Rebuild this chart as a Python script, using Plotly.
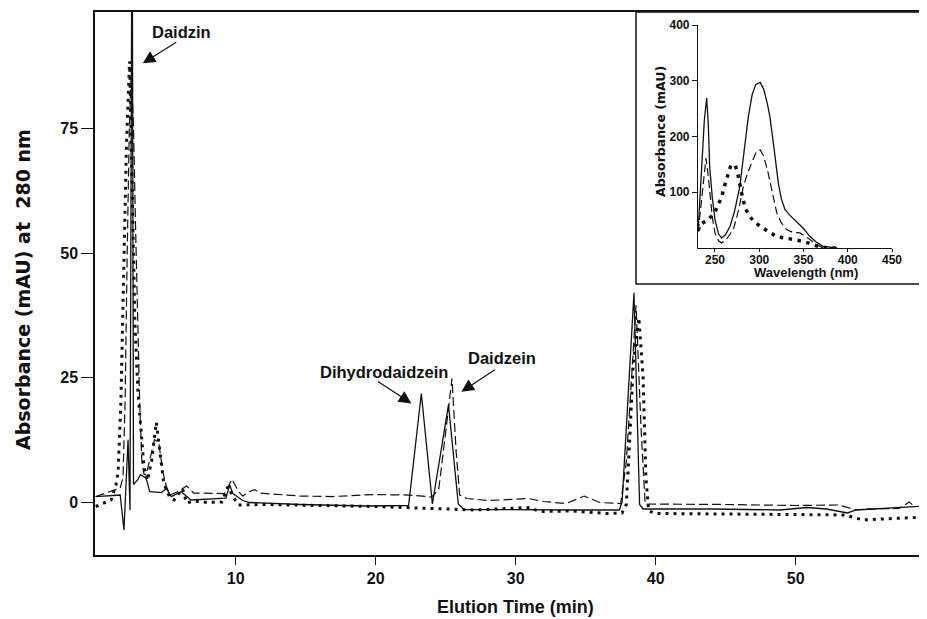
import plotly.graph_objects as go

# ---------------- main chromatogram data ----------------
solid_t = [0, 1.75, 2.02, 2.31, 2.45, 2.6, 2.7, 3.0, 3.2, 3.43, 3.6, 3.86, 4.7, 5.05, 5.4, 6.1, 6.8,
           9.3, 9.57, 9.8, 10.5, 11, 14.6, 19.3, 22.35, 23.26, 24.05, 25.2, 25.9, 26.3, 30, 34, 37.4,
           37.6, 38.45, 38.85, 39.1, 44, 48.9, 50.8, 52.2, 53.7, 54.3, 57.4, 59.4]
solid_a = [1.1, 1.4, -5.6, 12.5, -1.6, 130, 3.5, 4.5, 5.5, 5.1, 4.8, 2.1, 1.9, 2.7, 1.1, 2.1, 0.4,
           0.8, 3.4, 1.7, 0.3, -0.1, -0.5, -0.8, -0.7, 21.8, -0.4, 19.5, -0.4, -1.5, -1.6, -1.6, -1.6,
           0, 42, -0.5, -1.4, -1.4, -1.6, -1.1, -1.4, -2.2, -1.6, -1.2, -0.8]

dash_t = [0, 1.24, 1.75, 1.95, 2.1, 2.25, 2.4, 2.55, 2.7, 2.85, 3.0, 3.14, 3.3, 3.45, 3.6, 3.86, 4.2,
          4.5, 4.8, 5.05, 5.3, 5.8, 6.5, 7.0, 9.2, 9.74, 10.2, 10.5, 11.0, 11.36, 11.7, 14.6, 16.9,
          19.8, 21.7, 22.4, 24.0, 24.5, 25.0, 25.45, 25.75, 26.0, 26.5, 28.1, 30.9, 32, 33.6, 34.9,
          36, 37.5, 37.9, 38.6, 38.95, 39.25, 45, 50, 53.1, 54.3, 55, 57.4, 58.1, 58.5, 59.4]
dash_a = [1.1, 2.4, 2.8, 5, 20, 50, 75, 87, 75, 55, 35, 20, 8, 5.6, 5.4, 8.4, 12.5,
          12, 6, 3.1, 1.4, 2.0, 3.2, 1.8, 1.7, 4.6, 2.1, 1.2, 2.1, 2.5, 1.8, 1.2, 1.1,
          1.5, 1.4, 1.4, 1.0, 2.5, 14, 24.8, 10, 1.4, 0.7, 0.3, 0.7, 0.1, -0.3, 1.2,
          -0.1, -0.3, 8, 39.5, 15, -0.4, -0.5, -0.7, -0.6, -1.6, -1.4, -1.3, 0.0, -0.9, -0.9]

dot_t = [0, 0.5, 1.1, 1.45, 1.6, 1.8, 2.0, 2.2, 2.42, 2.6, 2.8, 3.02, 3.26, 3.45, 3.7, 4.0, 4.33,
         4.6, 4.85, 5.05, 5.3, 5.6, 6.2, 6.5, 7.0, 8.0, 9.0, 9.45, 9.8, 10.2, 12, 16, 20, 24, 27,
         31, 31.7, 34, 36.5, 37.6, 37.9, 38.1, 38.4, 38.8, 39.1, 39.3, 39.5, 40, 45, 50, 53.5,
         54.8, 57, 59.4]
dot_a = [-0.9, -0.3, 0.4, 3.5, 6, 20, 45, 72, 88.5, 65, 36, 22, 13.3, 7, 4.3, 8.4, 16,
         10, 4, 2.4, 0.9, 0.4, 2.7, -0.2, 0.2, -0.1, 0, 3.1, 1.1, -0.6, -0.5, -0.7, -0.9, -1.3, -1.6,
         -1.1, -1.9, -1.8, -2.3, -2.2, -0.5, 10, 28, 37, 25, 5, -1.8, -2.3, -2.4, -2.5, -2.6,
         -3.6, -3.3, -3.0]

main_xticks = [10, 20, 30, 40, 50]
main_yticks = [0, 25, 50, 75]

# ---------------- inset UV spectra data ----------------
sp_solid_nm = [231, 235, 238, 240.6, 242.5, 244, 247, 250, 254, 257.5, 262, 267, 272, 278, 283, 287.7,
               292, 296, 301, 305, 309, 312, 317, 321.6, 325, 329, 335, 342, 350, 357, 365, 372, 380, 388]
sp_solid_a = [33, 146, 230, 269, 220, 146, 90, 51, 25, 18, 24, 39, 65, 110, 175, 236,
              275, 293, 297, 285, 260, 236, 175, 116, 88, 69, 58, 48, 35, 21, 10, 3, 1, 0]

sp_dash_nm = [231, 235, 238, 239.8, 242, 244, 247, 250, 254, 257.5, 263, 270.7, 277, 282, 287, 291.5,
              296, 301, 305, 310, 315, 319.8, 325, 331, 338, 346, 352, 357, 365, 372]
sp_dash_a = [29, 87, 140, 161, 135, 99, 55, 27, 13, 9, 16, 33, 70, 110, 135, 153,
             170, 176, 165, 135, 95, 63, 45, 33, 28, 27, 21, 15, 6, 0]

sp_dot_nm = [231, 233, 242.4, 250, 253.4, 257.5, 259.4, 262, 264.8, 268, 273, 276, 280, 282, 284, 289,
             295, 303.8, 312, 320, 329, 340, 349.6, 359, 368, 379, 388]
sp_dot_a = [31, 42, 51, 64, 78, 90, 104, 119, 134, 149, 148, 131, 99, 87, 72, 57,
            46, 36, 27, 20, 18, 15, 12, 7, 2, 0, 0]

inset_xticks = [250, 300, 350, 400, 450]
inset_yticks = [100, 200, 300, 400]

INK = "#111111"
FONT = "Liberation Sans, Arial, Helvetica, sans-serif"
WIDE = "DejaVu Sans, Liberation Sans, sans-serif"

fig = go.Figure()

fig.add_trace(go.Scatter(x=dot_t, y=dot_a, mode="lines",
                         line=dict(color=INK, width=3, dash="3px,5px"), xaxis="x", yaxis="y"))
fig.add_trace(go.Scatter(x=dash_t, y=dash_a, mode="lines",
                         line=dict(color=INK, width=1.2, dash="9px,4px"), xaxis="x", yaxis="y"))
fig.add_trace(go.Scatter(x=solid_t, y=solid_a, mode="lines",
                         line=dict(color=INK, width=1.3), xaxis="x", yaxis="y"))

fig.add_trace(go.Scatter(x=sp_dot_nm, y=sp_dot_a, mode="lines",
                         line=dict(color=INK, width=3.5, dash="3.5px,5.5px"), xaxis="x2", yaxis="y2"))
fig.add_trace(go.Scatter(x=sp_dash_nm, y=sp_dash_a, mode="lines",
                         line=dict(color=INK, width=1.2, dash="8px,4px"), xaxis="x2", yaxis="y2"))
fig.add_trace(go.Scatter(x=sp_solid_nm, y=sp_solid_a, mode="lines",
                         line=dict(color=INK, width=1.3), xaxis="x2", yaxis="y2"))

# page is shown with an 8px body margin; work in page pixels and convert
OFF = 8
W, H = 927 - OFF, 619 - OFF
PL, PR, PT, PB = 95, 927, 12, 555          # plot area in page pixels
L, T = PL - OFF, PT - OFF
R = W - (PR - OFF)
B = H - (PB - OFF)
pw, ph = PR - PL, PB - PT

def px2paper_x(px):
    return (px - PL) / pw

def py2paper_y(py):
    return (PB - py) / ph

# inset box
fig.add_shape(type="rect", xref="paper", yref="paper",
              x0=px2paper_x(636), x1=1.01, y0=py2paper_y(284), y1=1.0,
              line=dict(color=INK, width=1.5), fillcolor="white", layer="below")

tick_font = dict(family=FONT, size=16, color=INK, weight="bold")
inset_font = dict(family=FONT, size=12, color=INK, weight="bold")

fig.update_layout(
    width=W, height=H,
    margin=dict(l=L, r=R, t=T, b=B, pad=0, autoexpand=False),
    paper_bgcolor="white", plot_bgcolor="white",
    showlegend=False,
    xaxis=dict(range=[-0.05, 59.38], tickvals=main_xticks, ticks="outside", ticklen=8,
               tickwidth=1.3, tickcolor=INK, showline=True, linecolor=INK, linewidth=1.5,
               mirror=True, showgrid=False, zeroline=False, tickfont=tick_font, automargin=False),
    yaxis=dict(range=[-10.64, 98.4], tickvals=main_yticks, ticks="outside", ticklen=12,
               tickwidth=1.3, tickcolor=INK, showline=True, linecolor=INK, linewidth=1.5,
               showgrid=False, zeroline=False, tickfont=tick_font, automargin=False),
    xaxis2=dict(domain=[px2paper_x(698), px2paper_x(892)], range=[230.8, 450], anchor="y2",
                tickvals=inset_xticks, ticks="outside", ticklen=3, tickcolor=INK,
                showline=True, linecolor=INK, linewidth=1.2, showgrid=False, zeroline=False,
                tickfont=inset_font, automargin=False, ticklabelstandoff=-3),
    yaxis2=dict(domain=[py2paper_y(248), py2paper_y(25)], range=[0, 400], anchor="x2",
                tickvals=inset_yticks, ticks="outside", ticklen=5, tickcolor=INK,
                showline=True, linecolor=INK, linewidth=1.2, showgrid=False, zeroline=False,
                tickfont=inset_font, automargin=False),
)

ann_font = dict(family=FONT, size=16.5, color=INK, weight="bold")
xtitle_font = dict(family=FONT, size=18, color=INK, weight="bold")
ytitle_font = dict(family=WIDE, size=19, color=INK, weight="bold")
inset_xtitle_font = dict(family=FONT, size=13, color=INK, weight="bold")
inset_ytitle_font = dict(family=WIDE, size=12.5, color=INK, weight="bold")

annotations = [
    # axis titles
    dict(text="Absorbance (mAU) at  280 nm", xref="paper", yref="paper",
         x=px2paper_x(23), y=py2paper_y(290), textangle=-90, showarrow=False,
         xanchor="center", yanchor="middle", font=ytitle_font),
    dict(text="Elution Time (min)", xref="paper", yref="paper",
         x=px2paper_x(515), y=py2paper_y(607), showarrow=False,
         xanchor="center", yanchor="middle", font=xtitle_font),
    dict(text="Absorbance (mAU)", xref="paper", yref="paper",
         x=px2paper_x(660), y=py2paper_y(132), textangle=-90, showarrow=False,
         xanchor="center", yanchor="middle", font=inset_ytitle_font),
    dict(text="Wavelength (nm)", xref="paper", yref="paper",
         x=px2paper_x(806), y=py2paper_y(272), showarrow=False,
         xanchor="center", yanchor="middle", font=inset_xtitle_font),
    # peak labels
    dict(text="Daidzin", x=6.14, y=94.4, xref="x", yref="y", showarrow=False,
         xanchor="center", yanchor="middle", font=ann_font),
    dict(text="Dihydrodaidzein", x=20.57, y=26.1, xref="x", yref="y", showarrow=False,
         xanchor="center", yanchor="middle", font=ann_font),
    dict(text="Daidzein", x=29.04, y=28.9, xref="x", yref="y", showarrow=False,
         xanchor="center", yanchor="middle", font=ann_font),
    # arrows
    dict(text="", x=3.36, y=88.1, xref="x", yref="y", showarrow=True, ax=35, ay=-22,
         arrowhead=2, arrowsize=2.1, arrowwidth=1.2, arrowcolor=INK),
    dict(text="", x=22.55, y=19.8, xref="x", yref="y", showarrow=True, ax=-35, ay=-23,
         arrowhead=2, arrowsize=2.1, arrowwidth=1.2, arrowcolor=INK),
    dict(text="", x=26.12, y=22.15, xref="x", yref="y", showarrow=True, ax=35, ay=-23,
         arrowhead=2, arrowsize=2.1, arrowwidth=1.2, arrowcolor=INK),
]
fig.update_layout(annotations=annotations)

fig.write_html("out.html")
